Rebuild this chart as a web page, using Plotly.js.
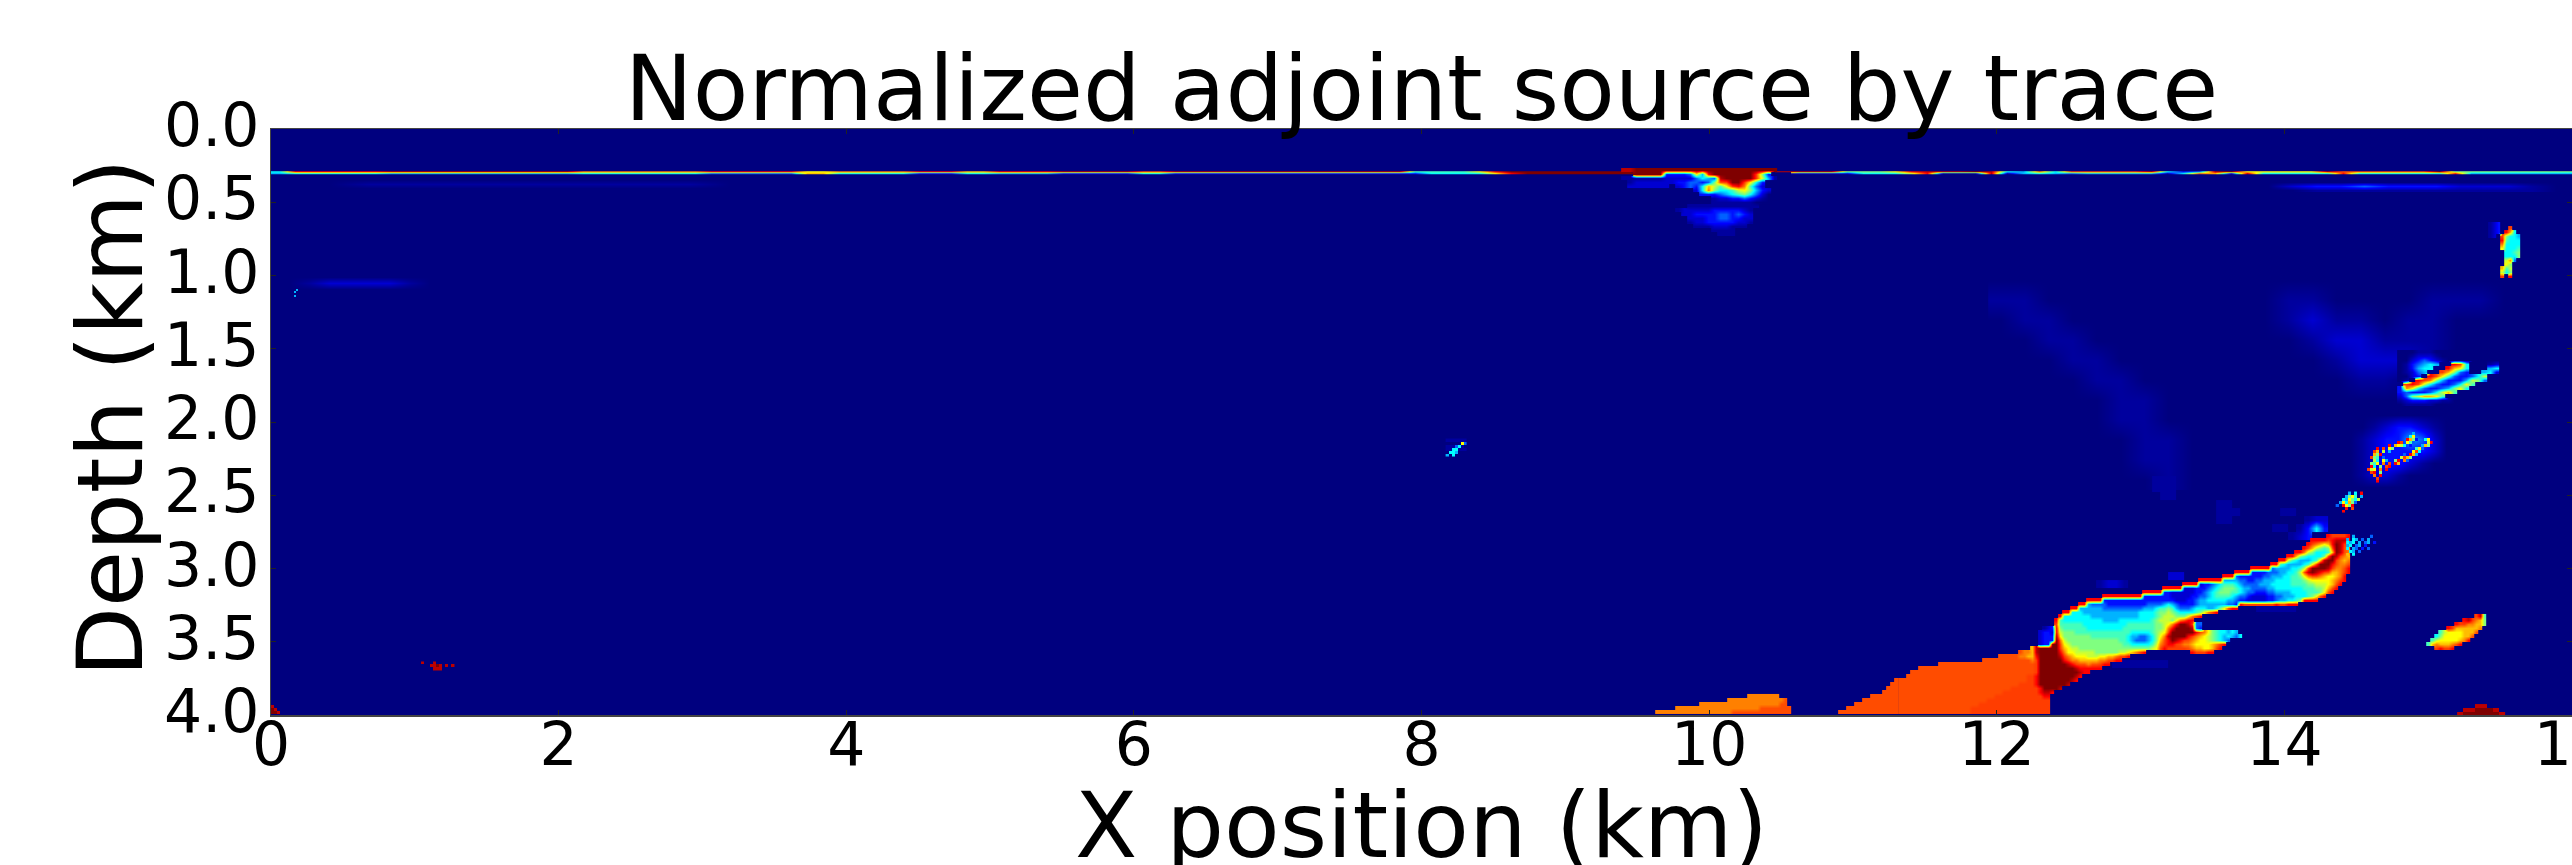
<!DOCTYPE html>
<html><head><meta charset="utf-8">
<script src="https://cdn.plot.ly/plotly-3.0.1.min.js"></script>
<style>html,body{margin:0;padding:0;background:#fff;overflow:hidden}#c{width:2572px;height:865px}</style>
</head><body><div id="c"></div>
<script>
// value code -> normalized adjoint source amplitude
const CODES = "0123456789abcdefgh";
const LEVELS = [0,.03,.08,.14,.22,.3,.375,.44,.5,.57,.625,.69,.75,.8,.815,.875,.94,1];
const X_TICKS = [0,2,4,6,8,10,12,14,16];
const Y_TICKS = [0,0.5,1,1.5,2,2.5,3,3.5,4];
const Y_LABELS = ["0.0","0.5","1.0","1.5","2.0","2.5","3.0","3.5","4.0"];
const TITLE_TEXT = "Normalized adjoint source by trace";
const X_TITLE = "X position (km)";
const Y_TITLE = "Depth (km)";

// shallow reflector, sampled along X position
const SURFACE_LINE = [
"6ffffffggggggggggggccccccccffffffaacccccfffbbffffgggggddggggggggggggggg7777afhhhhhhhh.........gggg888afggghg65c6eeeeeg634ghaaaaagddddddh88888888",
"566666655555555555566666666444444bb66666333665555333336633333333333333336666afhhhhhhhh.........22226669f111g15654555551 6db2g66666f666666f55555555".replace(/ /g,"")
];
const SURFACE_ANOMALY = [
"gghhhhhhhhhhhhhhhhhhhhhhhh",
"..hhhhh33334a5fhhhhhhhe83.",
"1111111222224654ghhhhhe951",
".122222223344348dehhea63..",
".2222222.23436b97aefc742..",
"............26c86679a8532.",
".............333456786420.",
"...............12233432100",
"...............1111111000.",
"...........111111111111...",
".........1222223333321....",
"..........223333443432....",
"...........22233443322....",
"...........12233333221....",
"............111222111.....",
"...............1111.......",
"................111......."
];
const PLUME_HALO = [
[32,"111"],[32,"111"],[33,"11"],[40,"11"],[40,"111.....11"],[40,"11.........122"],[47,"11.1363"],[49,"123"],
[0,""],[0,""],[0,""],[0,""],[34,"22"],[25,"1221"],[0,""],[0,""],[45,"11111"],[0,""],[0,""],[0,""],[0,""],[0,""],[0,""],[27,"1111111"]
];
const PLUME = [
[107,"feeeef"],
[103,"ffffefgggf"],
[102,"fdcbabfhgee"],
[101,"fdb9878dhgdc"],
[99,"ffc986667bhgdc"],
[97,"ffb8766668ehgdcb"],
[95,"ff97655567bghhecbc"],
[93,"ff76555567aehhhfdccd"],
[88,"fffff455556679ehhhhgeccdf"],
[84,"ffff3333444556679dghgfedbbcef"],
[81,"fff43333334455566778acddcbaabcf"],
[75,"ffffff5555443344555666677789aaaaabcef"],
[71,"ffff23345677765444455566666777788999abdf"],
[66,"fffff222"+"33345678"+"88765544"+"44556666"+"66677788"+"9bdf"],
[61,"fffff332"+"22222334"+"56788877"+"65443334"+"45555666"+"67778adf"],
[51,"ffffffffff333333"+"32222233"+"44567777"+"65443222"+"23344555"+"66678adf"],
[47,"ffff3333"+"33333333"+"33333322"+"23345566"+"66655433"+"22222334"+"556678ff"+"ff"],
[45,"ff544443"+"33333333"+"34444565"+"43333455"+"55555443"+"feeeeeee"+"efeefff"],
[43,"ff555555"+"44444444"+"44555677"+"87544456"+"665568ad"+"ff"],
[41,"ff666555"+"55555555"+"55566667"+"88987666"+"678acef"],
[40,"f6666666"+"55555555"+"55556666"+"78999888"+"acef"],
[39,"f7666666"+"66665555"+"66666666"+"789998ac"+"dff"],
[39,"e7777776"+"66666666"+"66777777"+"7889acfh"+"hge44"],
[36,"123"+"f8777777"+"66666666"+"67777777"+"7889cfhh"+"hhg43"],
[35,"2332"+"f9888777"+"77777777"+"77766666"+"789aehhh"+"hhhfdca8"+"766565"],
[35,"2333"+"ga888888"+"87777777"+"77655445"+"68acghhh"+"hfecba98"+"7656546"],
[35,"2333"+"hc988888"+"88888888"+"77654445"+"68bdfhgf"+"edcbaa98"+"7654"],
[35,"233"+"hhda98"+"88888888888"+"87766666"+"79ceffed"+"ccbaaaabcef"],
[33,"bghhhhh"+"eba99"+"888888888888888888"+"9adf"+"eeeeedcbbaabdf"],
[30,"dccbghhhhh"+"fcaa99999"+"888888"+"99abcef"+"..........."+"feeeff"],
[25,"dddddccbbfhhhhh"+"gecbaaa"+"999aabbcdef"],
[21,"ddddddddddddc"+"ehhhhhh"+"fecc"+"bbbbb"+"ccdeff"],
[10,"dddddddddddddddddddddddd"+"ehhhhhhh"+"gfeddcddeff"],
[5,"ddddddddddddddddddddddddddddd"+"ehhhhhhhhh"+"gffffff"],
[3,"ddddddddddddddddddddddddddddddd"+"ehhhhhhhhhh"+"gff"],
[2,"dddddddddddddddddddddddddddddd"+"eef"+"hhhhhhhhh"+"gf"],
[0,"dddddddddddddddddddddddddddddddd"+"eef"+"hhhhhhhh"+"gf"],
[0,"dddddddddddddddddddddddddddddd"+"eeee"+"f"+"hhhhhhh"+"g"],
[0,"dddddddddddddddddddddddddddd"+"eeeeee"+"ef"+"hhhh"+"g"],
[0,"dddddddddddddddddddddddddd"+"eeeeeeeee"+"fggf"],
[0,"dddddddddddddddddddddddd"+"eeeeeeeeeeee"+"ff"],
[0,"dddddddddddddddddddddd"+"eeeeeeeeeeeeeeee"],
[0,"dddddddddddddddddddd"+"eeeeeeeeeeeeeeeeee"],
[0,"dddddddddddddddddd"+"eeeeeeeeeeeeeeeeeeee"],
[0,"dddddddddddddddddd"+"eeeeeeeeeeeeeeeeeeee"]
];
const PLUME_FOOT = [[15,"d"],[14,"dd"],[13,"ddd"],[12,"dddd"],[9,"ddddddd"],[7,"ddddddddd"],[5,"ddddddddddd"],[3,"ddddddddddddd"],[1,"ddddddddddddddd"]];
const PLUME_TAIL = ["..5.....4.","5.65.4.5..","656.5.45.3","56.45.3...","6.54.3.4..",".65.4.....","b.6......."];
const LOBE_BOTTOM = [
[24,"cccccccc"],
[19,"ccccccccccccccd"],
[12,"ccccccccccccccccccccdd"],
[6,"cccccccccccccccccccccdddddddd"],
[1,"cccccccccccccccccccddddddddddddddd"]
];
const SPOT_UPPER = [
"123.....","123..e..","123.fb6.","12.e8665","...f7666","...c6666",
"...a6667","....6678","....6668","....9c4.","....a8..","...b79..","...968..","...e.f.."
];
const STREAK_MID = [
"00011100000000000","00122210000000000","00234321000000000",
"0134565..fe6...12","013566..fba6...56","01245..eb843..562",
"0023.fda7433469..","01.fec853335984..",".efd9643346a7....",
"3ca6433458a6.....","34333469b7.......","2489bba7.........",
"12333221100000000","01111100000000000"
];
const FAINT_ARCS = [
"0000000000000000000000","1100000000001100001110","0110000000001211011000",
"0011000000000122111000","0001100000000012221000","0000110000000001100000",
"0000011000000000000000","0000011000000000000000","0000001100000000000000",
"0000001100000000000000","0000000100000000000000"
];
const HALO_LOWER = ["000000000","001233210","012335420","012333320","012332100","012210000","000000000"];
const SPECKLE_LOWER = [
".......................","................5......","...............6a......",
"..............fb83..6a.","...........fe.a74....9f","........f.ba96.3...5b8.",
"....f.e.a8.3.....7a4...","...eb.9.5....3..ae6....","...b8f3......4.fb5.....",
"..e87.4.....9eb8.......","...96.a5..8f.c4........","..87a.c.e.fb...........",
"..f6.8.ef..............",".e9a.c.f...............","..ef.8.................",
"...c.f.................","....e..................","....f.................."
];
const SPECKLE_TIP = ["....5.6.f.","...58a7.5.","..65a869..",".5a6b84...","4.fa8f....","...f.e....","..f......."];
const LOBE_RIGHT = [
"............eg7",".........fgecb8",".......feeccbb8",".....febbbbbbc.",
"...79aaaabbbd..","..68aaaaabbd...",".79aaaaabcf....","7bcbbbcdf......","..efeef........"
];
const HUMP_RIGHT = ["...gg...",".gghhhg.","ghhhhhhg"];
const CORNER = ["g...","hg..","hhg."];
const SPECK_LEFT_DEEP = ["..g...g......",".....gghg.g.g","......ggg...."];
const SPOT_CENTER = ["1111111",".....a4","111461.","1166111",".665...","5.6...."];
const SPOT_LEFT = [".5.","5..","...","5.."];
const BAR_RIGHT = ["0000000000000","0233433322210","0011111111110"];
const BAR_LEFT = ["00000000000","01111111110","00000000000"];
const BAR_LOW = ["00000000","00000000","00000000","00000000","01222210","00000000"];

const JET = [[0,"#00007f"],[0.125,"#0000ff"],[0.375,"#00ffff"],[0.625,"#ffff00"],[0.875,"#ff0000"],[1,"#7f0000"]];

function decode(rows){
  const parsed = rows.map(r => Array.isArray(r) ? ".".repeat(r[0]) + r[1] : r);
  const n = Math.max(...parsed.map(s => s.length));
  return parsed.map(s => Array.from(s.padEnd(n,".")).map(ch => ch === "." ? null : LEVELS[CODES.indexOf(ch)]));
}
function patch(rows,x0,dx,y0,dy,smooth){
  return {type:"heatmap",z:decode(rows),x0:x0,dx:dx,y0:y0,dy:dy,colorscale:JET,zmin:0,zmax:1,
          showscale:false,hoverinfo:"skip",zsmooth:smooth?"best":false};
}
const S = true, H = false;
const traces = [
  patch(["00","00"],0,16,0,4,H),
  patch(BAR_LEFT,.41,.2782,.348,.0273,S),
  patch(BAR_LOW,.13,.139,.887,.041,S),
  patch(BAR_RIGHT,13.887,.1669,.3618,.0273,S),
  patch(FAINT_ARCS,12.024,.1669,1.031,.1365,S),
  patch(HALO_LOWER,14.458,.08345,1.952,.0819,S),
  patch(SURFACE_LINE,.0556,.11127,.2935,.0102,S),
  patch(SURFACE_ANOMALY,9.409,.04172,.2799,.0273,S),
  patch(PLUME_HALO,11.328,.05563,2.396,.05461,S),
  patch(PLUME,11.328,.02782,2.778,.0273,S),
  patch(PLUME_FOOT,10.883,.02782,3.761,.0273,S),
  patch(PLUME_TAIL,14.44,.02086,2.78,.02048,H),
  patch(LOBE_BOTTOM,9.611,.02782,3.870,.0273,S),
  patch(SPOT_UPPER,15.431,.02782,.6485,.0273,S),
  patch(STREAK_MID,14.805,.04172,1.522,.0273,S),
  patch(SPECKLE_LOWER,14.562,.02086,2.055,.02048,H),
  patch(SPECKLE_TIP,14.367,.02086,2.485,.02048,H),
  patch(LOBE_RIGHT,15.0,.02782,3.324,.0273,S),
  patch(HUMP_RIGHT,15.222,.04172,3.939,.0273,H),
  patch(CORNER,.0104,.02086,3.942,.02048,H),
  patch(SPECK_LEFT_DEEP,1.015,.02086,3.645,.02048,H),
  patch(SPOT_CENTER,8.178,.02086,2.123,.02048,H),
  patch(SPOT_LEFT,.167,.0139,1.099,.01365,H)
];
const FONT = "DejaVu Sans, Liberation Sans, sans-serif";
const layout = {
  width:2572,height:865,paper_bgcolor:"#fff",plot_bgcolor:"#00007f",showlegend:false,
  margin:{l:271,r:0,t:129,b:150,pad:0},
  title:{text:TITLE_TEXT,font:{family:FONT,size:91,color:"#000"},
         x:0.5,xanchor:"center",xref:"paper",y:1,yref:"container",yanchor:"top",pad:{t:56}},
  xaxis:{range:[0,16],tickvals:X_TICKS,ticktext:X_TICKS.map(String),ticks:"inside",ticklen:5,tickcolor:"#222",tickwidth:1,
         showgrid:false,zeroline:false,showline:true,linecolor:"#444",linewidth:1.5,mirror:"ticks",
         tickfont:{family:FONT,size:60,color:"#000"},ticklabelstandoff:-24,ticklabeloverflow:"allow",automargin:false},
  yaxis:{range:[4,0],tickvals:Y_TICKS,ticktext:Y_LABELS,ticks:"inside",ticklen:5,tickcolor:"#222",tickwidth:1,
         showgrid:false,zeroline:false,showline:true,linecolor:"#444",linewidth:1.5,mirror:"ticks",
         tickfont:{family:FONT,size:60,color:"#000"},ticklabelstandoff:-2,ticklabelshift:4,ticklabeloverflow:"allow",automargin:false},
  annotations:[
    {text:X_TITLE,xref:"paper",yref:"paper",x:0.5,y:-0.188,xanchor:"center",yanchor:"middle",showarrow:false,
     font:{family:FONT,size:91,color:"#000"}},
    {text:Y_TITLE,xref:"paper",yref:"paper",x:-0.0695,y:0.507,xanchor:"center",yanchor:"middle",showarrow:false,textangle:-90,
     font:{family:FONT,size:91,color:"#000"}}
  ]
};
Plotly.newPlot("c",traces,layout,{displayModeBar:false,staticPlot:true});
</script></body></html>
